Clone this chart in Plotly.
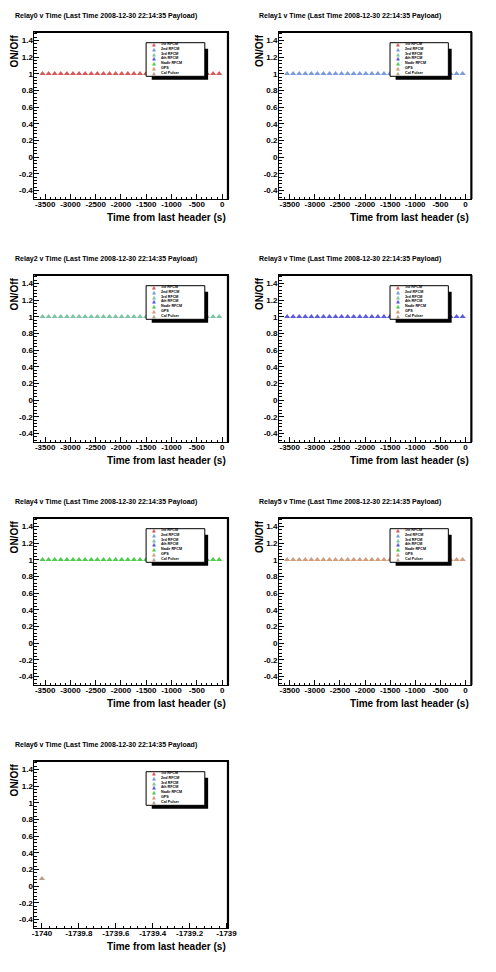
import plotly.graph_objects as go

# ---------------- data ----------------
relay_names = ["Relay0", "Relay1", "Relay2", "Relay3", "Relay4", "Relay5", "Relay6"]
legend_labels = ["1st RFCM", "2nd RFCM", "3rd RFCM", "4th RFCM", "Nadir RFCM", "GPS", "Cal Pulser"]
relay_colors = ["#d65a5a", "#7b9bd9", "#7fc4a4", "#5b5bdd", "#4ccc4c", "#d19a7a", "#b4a08c"]

times = [-3552, -3432, -3311, -3191, -3070, -2950, -2829, -2709, -2588, -2468,
         -2347, -2227, -2106, -1986, -1865, -1745, -1624, -1504, -1383, -1263,
         -1142, -1022, -901, -781, -660, -540, -419, -299, -178, -58]
on_values = [1, 1, 1, 1, 1, 1, 1, 1, 1, 1,
             1, 1, 1, 1, 1, 1, 1, 1, 1, 1,
             1, 1, 1, 1, 1, 1, 1, 1, 1, 1]
relay6_times = [-1740.0]
relay6_values = [0.09]

y_tickvals = [-0.4, -0.2, 0, 0.2, 0.4, 0.6, 0.8, 1, 1.2, 1.4]
y_ticktext = ["-0.4", "-0.2", "0", "0.2", "0.4", "0.6", "0.8", "1", "1.2", "1.4"]
x_tickvals = [-3500, -3000, -2500, -2000, -1500, -1000, -500, 0]
x_ticktext = ["-3500", "-3000", "-2500", "-2000", "-1500", "-1000", "-500", "0"]
x6_tickvals = [-1740, -1739.8, -1739.6, -1739.4, -1739.2, -1739]
x6_ticktext = ["-1740", "-1739.8", "-1739.6", "-1739.4", "-1739.2", "-1739"]

title_suffix = " v Time (Last Time 2008-12-30 22:14:35 Payload)"

# ---------------- layout geometry ----------------
OFF = 8.0  # page body margin
W, H = 488, 964
col_px = [(33.0, 231.0), (283.3, 480.0)]
row_px = [(32.0, 199.0), (275.0, 442.0), (518.0, 685.0), (761.0, 928.0)]
FONT = "Liberation Sans"


def px(xp):
    return (xp - OFF) / W


def py(yp):
    return 1 - (yp - OFF) / H


glyph_block = "<br>".join('<span style="color:%s;font-size:5px">▲</span>' % col
                          for col in relay_colors)
label_block = "<br>".join(legend_labels)

fig = go.Figure()
annotations = []
shapes = []

for i, name in enumerate(relay_names):
    r, c = divmod(i, 2)
    x0, x1 = col_px[c]
    y0, y1 = row_px[r]
    sfx = "" if i == 0 else str(i + 1)
    xa, ya = "x" + sfx, "y" + sfx
    if i < 6:
        xs, ys = times, on_values
        xrange = [-3712, 116]
        xtv, xtt, xminor = x_tickvals, x_ticktext, 100
    else:
        xs, ys = relay6_times, relay6_values
        xrange = [-1740.041, -1738.992]
        xtv, xtt, xminor = x6_tickvals, x6_ticktext, 0.04
    fig.add_trace(go.Scatter(
        x=xs, y=ys, mode="markers", xaxis=xa, yaxis=ya,
        marker=dict(symbol="triangle-up", size=5.4, color=relay_colors[i],
                    line=dict(width=0)),
        showlegend=False, hoverinfo="skip", cliponaxis=False))

    common = dict(showgrid=False, zeroline=False, showline=True, linecolor="black",
                  linewidth=1, mirror=True, ticks="inside", ticklen=5, tickwidth=1,
                  tickcolor="black", tickmode="array",
                  tickfont=dict(family=FONT, size=8, color="black", weight="bold"))
    fig.layout["xaxis" + sfx] = dict(
        common, domain=[px(x0), px(x1)], anchor=ya, range=xrange,
        tickvals=xtv, ticktext=xtt, ticklabelstandoff=-3,
        minor=dict(ticks="inside", ticklen=2.5, tickwidth=1, tickcolor="black",
                   dtick=xminor, tick0=0))
    fig.layout["yaxis" + sfx] = dict(
        common, domain=[py(y1), py(y0)], anchor=xa, range=[-0.5, 1.5],
        tickvals=y_tickvals, ticktext=y_ticktext, ticklabelstandoff=-1,
        minor=dict(ticks="inside", ticklen=2.5, tickwidth=1, tickcolor="black",
                   dtick=0.04, tick0=0))

    dx, dy = xa + " domain", ya + " domain"
    # thick top & right frame edges
    shapes.append(dict(type="line", xref=dx, yref=dy, x0=0, x1=1, y0=1, y1=1,
                       line=dict(color="black", width=2.2), layer="above"))
    shapes.append(dict(type="line", xref=dx, yref=dy, x0=1, x1=1, y0=0, y1=1,
                       line=dict(color="black", width=2.2), layer="above"))
    # legend shadow + box
    shapes.append(dict(type="rect", xref=dx, yref=dy, x0=0.606, x1=0.8975, y0=0.714, y1=0.90,
                       fillcolor="black", line=dict(width=0), layer="above"))
    shapes.append(dict(type="rect", xref=dx, yref=dy, x0=0.577, x1=0.8803, y0=0.7347, y1=0.936,
                       fillcolor="white", line=dict(color="black", width=1), layer="above"))
    annotations.append(dict(xref=dx, yref=dy, x=0.616, y=0.842, text=glyph_block,
                            showarrow=False, xanchor="center", yanchor="middle",
                            align="center", borderpad=0,
                            font=dict(family="DejaVu Sans", size=3.7, color="black")))
    annotations.append(dict(xref=dx, yref=dy, x=0.650, y=0.842, text=label_block,
                            showarrow=False, xanchor="left", yanchor="middle",
                            align="left", borderpad=0,
                            font=dict(family=FONT, size=3.7, color="black", weight="bold")))
    # panel title
    annotations.append(dict(xref="paper", yref="paper", x=px(x0 - 22.3), y=py(y0 - 16),
                            text=name + title_suffix, showarrow=False,
                            xanchor="left", yanchor="middle",
                            font=dict(family=FONT, size=7, color="black", weight="bold")))
    # y title
    annotations.append(dict(xref="paper", yref="paper", x=px(x0 - 20), y=py(y0),
                            text="ON/Off", showarrow=False, textangle=-90,
                            xanchor="center", yanchor="top",
                            font=dict(family=FONT, size=10, color="black", weight="bold")))
    # x title
    annotations.append(dict(xref="paper", yref="paper", x=px(x1), y=py(y1 + 18),
                            text="Time from last header (s)", showarrow=False,
                            xanchor="right", yanchor="middle",
                            font=dict(family=FONT, size=10, color="black", weight="bold")))

fig.update_layout(width=W, height=H, margin=dict(l=0, r=0, t=0, b=0),
                  paper_bgcolor="white", plot_bgcolor="white", showlegend=False,
                  annotations=annotations, shapes=shapes)
fig.write_html("out.html")
